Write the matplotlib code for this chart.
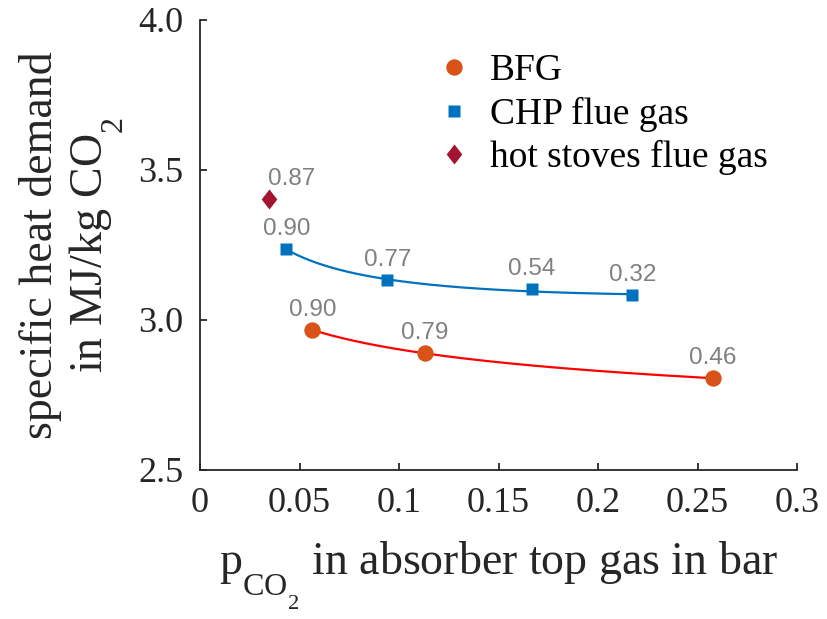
import numpy as np
import matplotlib
matplotlib.use('Agg')
import matplotlib.pyplot as plt

# data
bfg_p = [0.0565, 0.1129, 0.2576]
bfg_q = [2.967, 2.889, 2.806]
bfg_lab = ['0.90', '0.79', '0.46']

chp_p = [0.0434, 0.0941, 0.1667, 0.2173]
chp_q = [3.236, 3.132, 3.102, 3.082]
chp_lab = ['0.90', '0.77', '0.54', '0.32']

hs_p = [0.0345]
hs_q = [3.402]
hs_lab = ['0.87']

xticks = [0, 0.05, 0.1, 0.15, 0.2, 0.25, 0.3]
xticklabels = ['0', '0.05', '0.1', '0.15', '0.2', '0.25', '0.3']
yticks = [2.5, 3.0, 3.5, 4.0]
yticklabels = ['2.5', '3.0', '3.5', '4.0']

plt.rcParams['font.family'] = 'Liberation Serif'
plt.rcParams['mathtext.fontset'] = 'custom'
plt.rcParams['mathtext.rm'] = 'Liberation Serif'
plt.rcParams['mathtext.it'] = 'Liberation Serif:italic'

# MATLAB-style subscripts sit much lower than mathtext default
try:
    import matplotlib._mathtext as _mt
    _mt.FontConstantsBase.sub1 = 1.0
except Exception:
    pass

c_bfg = '#D95319'
c_chp = '#0072BD'
c_hs = '#A2142F'
fs_tick = 26
fs_lab = 33
fs_leg = 27
fs_ann = 17.5

fig = plt.figure(figsize=(8.27, 6.19), dpi=100)
ax = fig.add_axes([200/827, 1-470/619, 597/827, 450/619])

# trend lines (quadratic in ln p, fitted to the points)
def trend(px, qy, color):
    c = np.polyfit(np.log(px), qy, 2)
    xx = np.linspace(min(px), max(px), 200)
    ax.plot(xx, np.polyval(c, np.log(xx)), color=color, lw=1.6, zorder=2)

trend(bfg_p, bfg_q, '#FF0000')
trend(chp_p, chp_q, c_chp)

diamond = [(0, 1), (0.78, 0), (0, -1), (-0.78, 0), (0, 1)]
ax.plot(bfg_p, bfg_q, 'o', color=c_bfg, ms=11.8, mec='none', label='BFG', zorder=3)
ax.plot(chp_p, chp_q, 's', color=c_chp, ms=9.2, mec='none', label='CHP flue gas', zorder=3)
ax.plot(hs_p, hs_q, marker=diamond, ls='none', color=c_hs, ms=14.4, mec='none',
        label='hot stoves flue gas', zorder=3)

for px, qy, lab in zip(bfg_p + chp_p, bfg_q + chp_q, bfg_lab + chp_lab):
    ax.annotate(lab, (px, qy), xytext=(0, 14), textcoords='offset pixels',
                ha='center', va='baseline', color='#808080', fontsize=fs_ann,
                family='Liberation Sans')
for px, qy, lab in zip(hs_p, hs_q, hs_lab):
    ax.annotate(lab, (px, qy), xytext=(23, 14), textcoords='offset pixels',
                ha='center', va='baseline', color='#808080', fontsize=fs_ann,
                family='Liberation Sans')

ax.set_xlim(0, 0.3)
ax.set_ylim(2.5, 4.0)
ax.set_xticks(xticks)
ax.set_xticklabels(xticklabels)
ax.set_yticks(yticks)
ax.set_yticklabels(yticklabels)
ax.tick_params(direction='in', length=5, width=1.3, labelsize=fs_tick, color='#262626',
               labelcolor='#262626')
ax.tick_params(axis='x', pad=12)
ax.tick_params(axis='y', pad=12)
for s in ['top', 'right']:
    ax.spines[s].set_visible(False)
for s in ['left', 'bottom']:
    ax.spines[s].set_linewidth(1.3)
    ax.spines[s].set_color('#262626')

ax.set_xlabel(r'$\mathrm{p}_{\mathrm{CO}_2}$ in absorber top gas in bar', fontsize=fs_lab,
              color='#262626')
ax.set_ylabel('specific heat demand\nin MJ/kg CO$_2$', fontsize=fs_lab, color='#262626',
              linespacing=1.15)
ax.xaxis.set_label_coords(0.5, -0.155)
ax.yaxis.set_label_coords(-0.125, 0.5)

ax.legend(loc='upper left', bbox_to_anchor=(0.36, 0.958), frameon=False, fontsize=fs_leg,
          handletextpad=0.3, labelspacing=0.22, handlelength=1.3, borderaxespad=0)

fig.savefig('out.png', dpi=100)
